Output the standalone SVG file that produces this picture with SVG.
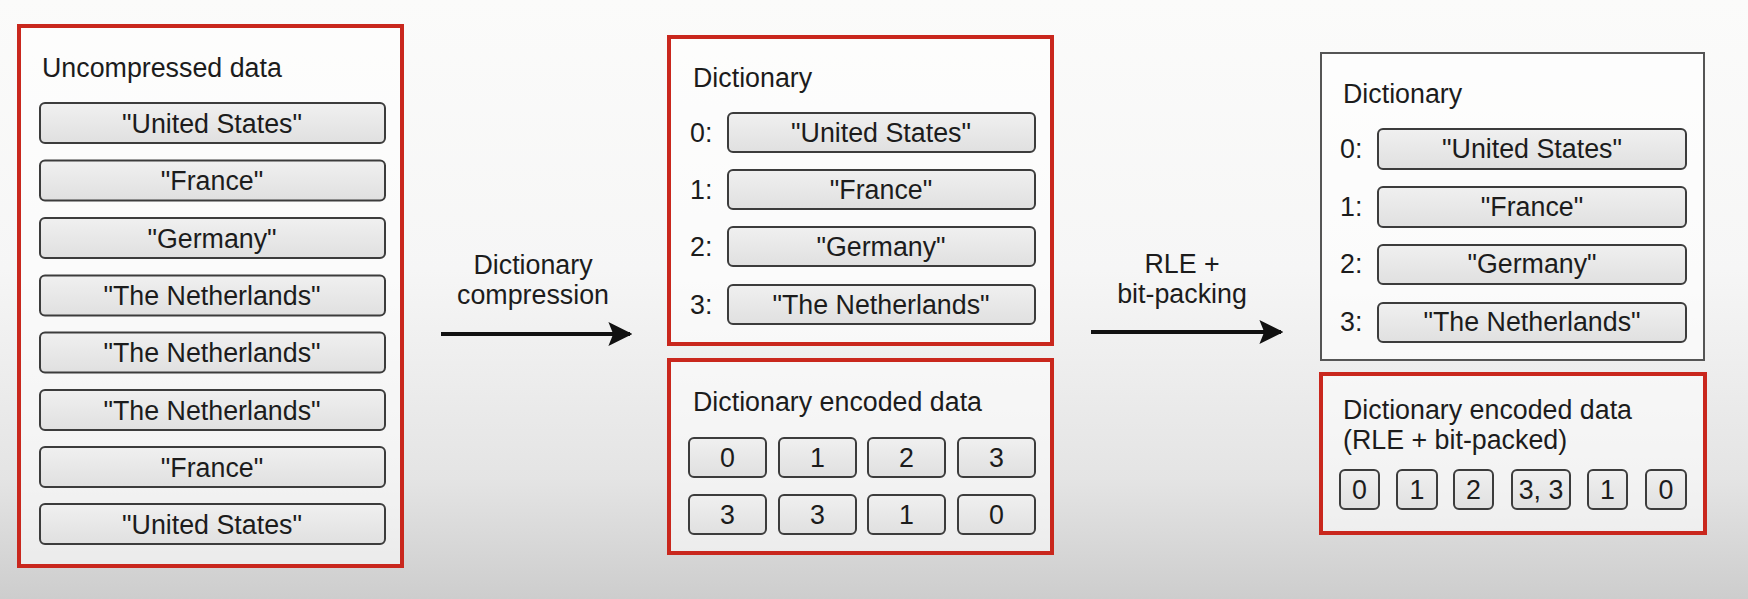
<svg xmlns="http://www.w3.org/2000/svg" width="1748" height="599" viewBox="0 0 1748 599">
<defs>
<linearGradient id="bg" x1="0" y1="0" x2="0" y2="1">
<stop offset="0" stop-color="#fbfbfa"/>
<stop offset="0.45" stop-color="#f6f6f6"/>
<stop offset="0.8" stop-color="#e4e4e4"/>
<stop offset="1" stop-color="#cdcdcd"/>
</linearGradient>
<linearGradient id="cell" x1="0" y1="0" x2="0" y2="1">
<stop offset="0" stop-color="#f0f0f0"/>
<stop offset="1" stop-color="#e0e0e0"/>
</linearGradient>
<marker id="ah" viewBox="0 0 10 10" refX="9" refY="5" markerWidth="6" markerHeight="6" markerUnits="strokeWidth" orient="auto">
<path d="M0,0 L10,5 L0,10 L2,5 Z" fill="#111"/>
</marker>
<style>
text{font-family:"Liberation Sans",Arial,sans-serif;font-size:26.8px;fill:#1c1c1c}
.c{text-anchor:middle}
.red{fill:#ffffff;fill-opacity:0.55;stroke:#c9271d;stroke-width:4}
.gray{fill:#ffffff;fill-opacity:0.6;stroke:#555;stroke-width:2}
.cell{fill:url(#cell);stroke:#3c3c3c;stroke-width:2}
.conn{stroke:#111;stroke-width:4;fill:none;marker-end:url(#ah)}
</style>
</defs>
<rect x="0" y="0" width="1748" height="599" fill="url(#bg)"/>

<g id="uncompressed">
<rect class="red" x="19" y="26" width="383" height="540"/>
<text x="42" y="77">Uncompressed data</text>
<rect class="cell" x="40" y="103" width="345" height="40" rx="5"/>
<text class="c" x="212" y="132.5">"United States"</text>
<rect class="cell" x="40" y="160.5" width="345" height="40" rx="5"/>
<text class="c" x="212" y="190">"France"</text>
<rect class="cell" x="40" y="218" width="345" height="40" rx="5"/>
<text class="c" x="212" y="247.5">"Germany"</text>
<rect class="cell" x="40" y="275.5" width="345" height="40" rx="5"/>
<text class="c" x="212" y="305">"The Netherlands"</text>
<rect class="cell" x="40" y="332.5" width="345" height="40" rx="5"/>
<text class="c" x="212" y="362">"The Netherlands"</text>
<rect class="cell" x="40" y="390" width="345" height="40" rx="5"/>
<text class="c" x="212" y="419.5">"The Netherlands"</text>
<rect class="cell" x="40" y="447" width="345" height="40" rx="5"/>
<text class="c" x="212" y="476.5">"France"</text>
<rect class="cell" x="40" y="504" width="345" height="40" rx="5"/>
<text class="c" x="212" y="533.5">"United States"</text>
</g>

<g id="dict1">
<rect class="red" x="669" y="37" width="383" height="307"/>
<text x="693" y="87">Dictionary</text>
<text x="690" y="142">0:</text>
<rect class="cell" x="728" y="113" width="307" height="39" rx="5"/>
<text class="c" x="881" y="142">"United States"</text>
<text x="690" y="199">1:</text>
<rect class="cell" x="728" y="170" width="307" height="39" rx="5"/>
<text class="c" x="881" y="199">"France"</text>
<text x="690" y="256">2:</text>
<rect class="cell" x="728" y="227" width="307" height="39" rx="5"/>
<text class="c" x="881" y="256">"Germany"</text>
<text x="690" y="314">3:</text>
<rect class="cell" x="728" y="285" width="307" height="39" rx="5"/>
<text class="c" x="881" y="314">"The Netherlands"</text>
</g>

<g id="encoded1">
<rect class="red" x="669" y="360" width="383" height="193"/>
<text x="693" y="411">Dictionary encoded data</text>
<rect class="cell" x="689" y="438" width="77" height="39" rx="5"/>
<text class="c" x="727.5" y="467">0</text>
<rect class="cell" x="779" y="438" width="77" height="39" rx="5"/>
<text class="c" x="817.5" y="467">1</text>
<rect class="cell" x="868" y="438" width="77" height="39" rx="5"/>
<text class="c" x="906.5" y="467">2</text>
<rect class="cell" x="958" y="438" width="77" height="39" rx="5"/>
<text class="c" x="996.5" y="467">3</text>
<rect class="cell" x="689" y="495" width="77" height="39" rx="5"/>
<text class="c" x="727.5" y="524">3</text>
<rect class="cell" x="779" y="495" width="77" height="39" rx="5"/>
<text class="c" x="817.5" y="524">3</text>
<rect class="cell" x="868" y="495" width="77" height="39" rx="5"/>
<text class="c" x="906.5" y="524">1</text>
<rect class="cell" x="958" y="495" width="77" height="39" rx="5"/>
<text class="c" x="996.5" y="524">0</text>
</g>

<g id="dict2">
<rect class="gray" x="1321" y="53" width="383" height="307"/>
<text x="1343" y="103">Dictionary</text>
<text x="1340" y="158">0:</text>
<rect class="cell" x="1378" y="129" width="308" height="40" rx="5"/>
<text class="c" x="1532" y="158">"United States"</text>
<text x="1340" y="216">1:</text>
<rect class="cell" x="1378" y="187" width="308" height="40" rx="5"/>
<text class="c" x="1532" y="216">"France"</text>
<text x="1340" y="273">2:</text>
<rect class="cell" x="1378" y="245" width="308" height="39" rx="5"/>
<text class="c" x="1532" y="273">"Germany"</text>
<text x="1340" y="331">3:</text>
<rect class="cell" x="1378" y="303" width="308" height="39" rx="5"/>
<text class="c" x="1532" y="331">"The Netherlands"</text>
</g>

<g id="encoded2">
<rect class="red" x="1321" y="374" width="384" height="159"/>
<text x="1343" y="419">Dictionary encoded data</text>
<text x="1343" y="449">(RLE + bit-packed)</text>
<rect class="cell" x="1340" y="470" width="39" height="39" rx="5"/>
<text class="c" x="1359.5" y="499">0</text>
<rect class="cell" x="1397" y="470" width="40" height="39" rx="5"/>
<text class="c" x="1417" y="499">1</text>
<rect class="cell" x="1454" y="470" width="39" height="39" rx="5"/>
<text class="c" x="1473.5" y="499">2</text>
<rect class="cell" x="1512" y="470" width="58" height="39" rx="5"/>
<text class="c" x="1541" y="499">3, 3</text>
<rect class="cell" x="1588" y="470" width="39" height="39" rx="5"/>
<text class="c" x="1607.5" y="499">1</text>
<rect class="cell" x="1646" y="470" width="40" height="39" rx="5"/>
<text class="c" x="1666" y="499">0</text>
</g>

<g id="connectors">
<line class="conn" x1="441" y1="334" x2="630" y2="334"/>
<text class="c" x="533" y="274">Dictionary</text>
<text class="c" x="533" y="304">compression</text>
<line class="conn" x1="1091" y1="332" x2="1281" y2="332"/>
<text class="c" x="1182" y="273">RLE +</text>
<text class="c" x="1182" y="303">bit-packing</text>
</g>
</svg>
